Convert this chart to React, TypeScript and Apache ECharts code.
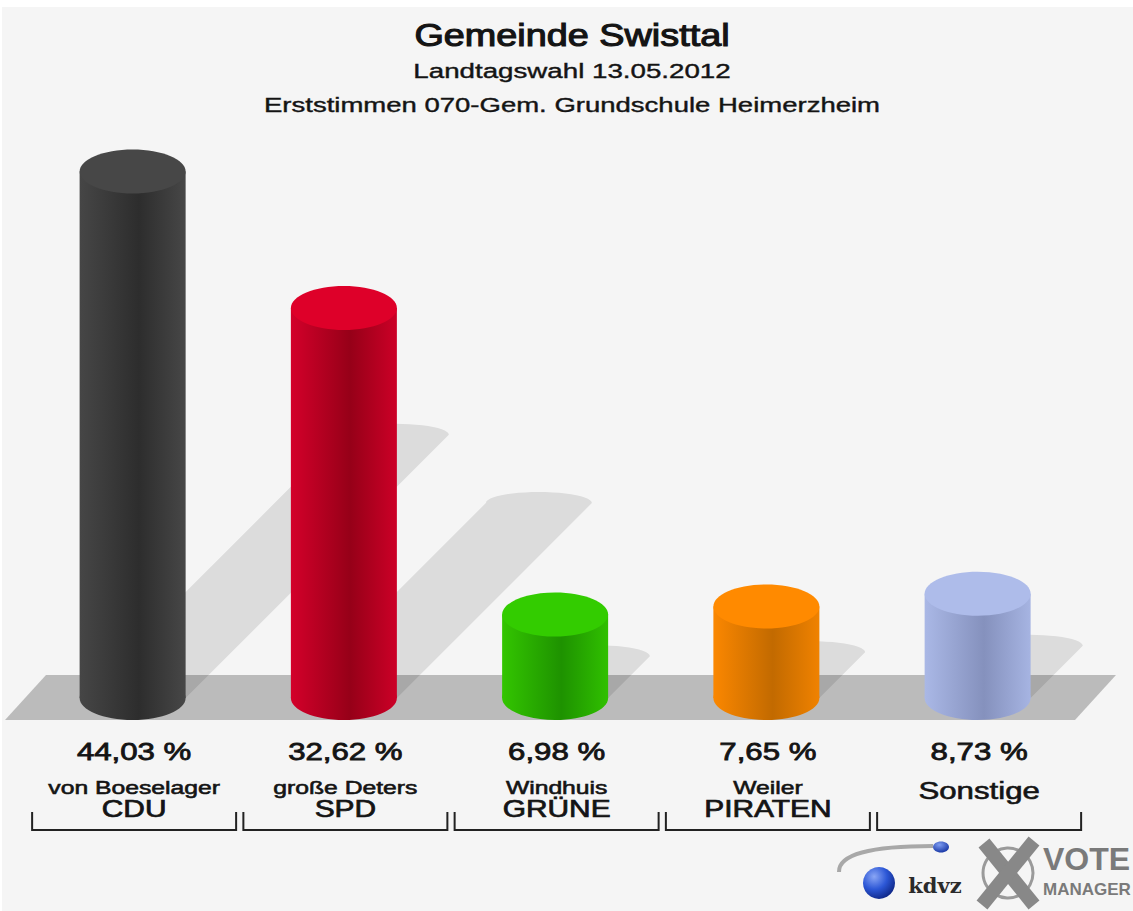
import React, { useEffect, useRef } from 'react';
import * as echarts from 'echarts';

// ---------- data ----------
const titleText = 'Gemeinde Swisttal';
const subtitleText = 'Landtagswahl 13.05.2012';
const subtitle2Text = 'Erststimmen 070-Gem. Grundschule Heimerzheim';
const candidates = ['von Boeselager', 'große Deters', 'Windhuis', 'Weiler', 'Sonstige'];
const parties = ['CDU', 'SPD', 'GRÜNE', 'PIRATEN', ''];
const values = [44.03, 32.62, 6.98, 7.65, 8.73];

// ---------- styles ----------
const palette = [
  { top: '#474747', left: '#464646', mid: '#2d2d2d', right: '#474747' },
  { top: '#de0029', left: '#d3002a', mid: '#960018', right: '#cc0027' },
  { top: '#33cc00', left: '#33c500', mid: '#1e9200', right: '#30c000' },
  { top: '#ff8a00', left: '#fb8700', mid: '#c26a00', right: '#f08200' },
  { top: '#aebcea', left: '#aab8e6', mid: '#8591bd', right: '#a6b4e2' },
];
const FONT = '"Liberation Sans", Arial, Helvetica, sans-serif';
const SX = 1.3;
const RX = 53;
const RY = 22;
const INK = '#141414';

const fmt = (v: number) => v.toFixed(2).replace('.', ',') + ' %';

const labelStyle = (text: string, fontSize: number, extra = 0.6) => ({
  text, fontSize, fontFamily: FONT, fill: INK, stroke: INK, lineWidth: extra,
  align: 'center', verticalAlign: 'middle',
});

const renderShadow = (params: any, api: any) => {
  const i = api.value(0);
  const v = api.value(1);
  const base = api.coord([i, 0]);
  const top = api.coord([i, v]);
  const cx = base[0];
  const yb = base[1];
  const d = 0.5 * (yb - top[1]);
  const tx = cx + d;
  const ty = yb - d;
  const pts: number[][] = [
    [cx - RX, yb],
    [cx + RX, yb],
    [cx + RX + d, ty],
  ];
  const n = 24;
  for (let k = 1; k < n; k++) {
    const a = (Math.PI * k) / n;
    pts.push([tx + RX * Math.cos(a), ty - 11 * Math.sin(a)]);
  }
  pts.push([cx - RX + d, ty]);
  return {
    type: 'polygon',
    shape: { points: pts },
    style: { fill: 'rgba(0,0,0,0.1)' },
  };
};

const renderCylinder = (params: any, api: any) => {
  const i = api.value(0);
  const v = api.value(1);
  const base = api.coord([i, 0]);
  const top = api.coord([i, v]);
  const cx = base[0];
  const c = palette[i];
  const bodyFill = {
    type: 'linear', x: 0, y: 0, x2: 1, y2: 0,
    colorStops: [
      { offset: 0, color: c.left },
      { offset: 0.56, color: c.mid },
      { offset: 1, color: c.right },
    ],
  };
  const lx = cx + 1.5;
  const children: any[] = [
    { type: 'ellipse', shape: { cx, cy: base[1], rx: RX, ry: RY }, style: { fill: bodyFill } },
    { type: 'rect', shape: { x: cx - RX, y: top[1], width: RX * 2, height: base[1] - top[1] }, style: { fill: bodyFill } },
    { type: 'ellipse', shape: { cx, cy: top[1], rx: RX, ry: RY }, style: { fill: c.top } },
    { type: 'text', x: lx, y: 751.5, scaleX: SX, style: labelStyle(fmt(v), 24, 0.8) },
  ];
  if (parties[i]) {
    children.push({ type: 'text', x: lx, y: 788, scaleX: SX, style: labelStyle(candidates[i], 19, 0.6) });
    children.push({ type: 'text', x: lx, y: 809, scaleX: SX, style: labelStyle(parties[i], 23, 0.7) });
  } else {
    children.push({ type: 'text', x: lx, y: 791, scaleX: SX, style: labelStyle(candidates[i], 24, 0.6) });
  }
  children.push({
    type: 'polyline',
    shape: { points: [[lx - 102, 812], [lx - 102, 830], [lx + 102, 830], [lx + 102, 812]] },
    style: { stroke: '#222', lineWidth: 2, fill: null },
  });
  return { type: 'group', children };
};

const buildOption = () => {
  const data = values.map((v, i) => [i, v]);
  return {
    animation: false,
    grid: { left: 27, right: 49.75, top: 100.25, bottom: 213 },
    xAxis: { type: 'category', data: parties.map((p, i) => p || candidates[i]), show: false },
    yAxis: { type: 'value', min: 0, max: 50, show: false },
    graphic: [
      { type: 'rect', shape: { x: 2, y: 7, width: 1131, height: 904 }, style: { fill: '#f5f5f5' }, z: -10 },
      {
        type: 'polygon', z: -9,
        shape: { points: [[46, 675], [1116, 675], [1075, 720], [5, 720]] },
        style: { fill: '#bbbbbb' },
      },
      {
        type: 'text', x: 572, y: 35, scaleX: 1.22,
        style: { text: titleText, fontSize: 31, fontFamily: FONT, fill: INK, stroke: INK, lineWidth: 1.1, align: 'center', verticalAlign: 'middle' },
      },
      {
        type: 'text', x: 572, y: 71, scaleX: 1.32,
        style: { text: subtitleText, fontSize: 21, fontFamily: FONT, fill: INK, stroke: INK, lineWidth: 0.4, align: 'center', verticalAlign: 'middle' },
      },
      {
        type: 'text', x: 572, y: 105, scaleX: 1.31,
        style: { text: subtitle2Text, fontSize: 21, fontFamily: FONT, fill: INK, stroke: INK, lineWidth: 0.4, align: 'center', verticalAlign: 'middle' },
      },
      // logo: kdvz
      {
        type: 'bezierCurve',
        shape: { x1: 839, y1: 872, cpx1: 838, cpy1: 846, x2: 933, y2: 846 },
        style: { stroke: '#a8a8a8', lineWidth: 4, fill: null },
      },
      {
        type: 'ellipse', shape: { cx: 941, cy: 847, rx: 8, ry: 5.5 },
        style: {
          fill: { type: 'radial', x: 0.4, y: 0.3, r: 0.8, colorStops: [{ offset: 0, color: '#7d9cf2' }, { offset: 1, color: '#0c2b9c' }] },
        },
      },
      {
        type: 'circle', shape: { cx: 879, cy: 883, r: 16 },
        style: {
          fill: { type: 'radial', x: 0.35, y: 0.3, r: 0.8, colorStops: [{ offset: 0, color: '#8aa6f5' }, { offset: 0.5, color: '#2c57d6' }, { offset: 1, color: '#0a1f7a' }] },
        },
      },
      {
        type: 'text', x: 935, y: 885,
        style: { text: 'kdvz', fontSize: 21, fontWeight: 'bold', fontFamily: '"DejaVu Serif", serif', fill: '#2a2a2a', align: 'center', verticalAlign: 'middle' },
      },
      // logo: vote manager
      { type: 'circle', shape: { cx: 1008, cy: 873, r: 25 }, style: { fill: null, stroke: '#9a9a9a', lineWidth: 3 } },
      { type: 'line', shape: { x1: 984, y1: 843, x2: 1034, y2: 905 }, style: { stroke: '#888888', lineWidth: 14 } },
      { type: 'line', shape: { x1: 1034, y1: 841, x2: 982, y2: 905 }, style: { stroke: '#888888', lineWidth: 14 } },
      {
        type: 'text', x: 1043, y: 859,
        style: { text: 'VOTE', fontSize: 32, fontWeight: 'bold', fontFamily: FONT, fill: '#7a7a7a', align: 'left', verticalAlign: 'middle' },
      },
      {
        type: 'text', x: 1043, y: 889,
        style: { text: 'MANAGER', fontSize: 17, fontWeight: 'bold', fontFamily: FONT, fill: '#7a7a7a', align: 'left', verticalAlign: 'middle' },
      },
    ],
    series: [
      {
        type: 'custom', z: 2, clip: false,
        renderItem: renderShadow,
        data,
        silent: true,
      },
      {
        type: 'custom', z: 3, clip: false,
        renderItem: renderCylinder,
        data,
        silent: true,
      },
    ],
  };
};

export default function App() {
  const ref = useRef<HTMLDivElement>(null);
  useEffect(() => {
    if (!ref.current) return;
    const chart = echarts.init(ref.current, null, { renderer: 'svg' });
    chart.setOption(buildOption() as any);
    return () => chart.dispose();
  }, []);
  return (
    <div
      ref={ref}
      style={{ position: 'absolute', left: 0, top: 0, width: 1133, height: 911, background: '#ffffff' }}
    />
  );
}
